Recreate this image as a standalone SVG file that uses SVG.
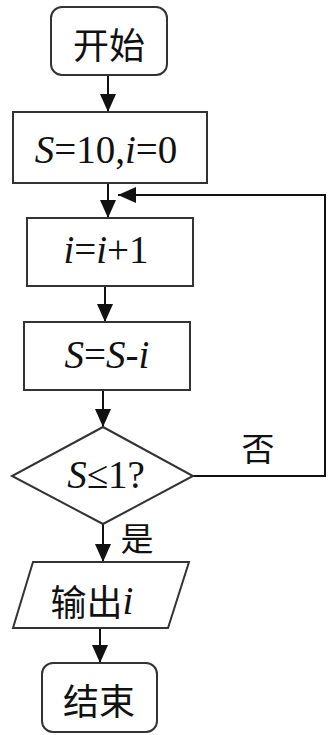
<svg xmlns="http://www.w3.org/2000/svg" width="335" height="735" viewBox="0 0 335 735">
<style>
.shape{fill:#fff;stroke:#333;stroke-width:2}
.conn{fill:none;stroke:#111;stroke-width:2}
.cjk{font-family:"Noto Sans CJK SC","Noto Sans CJK JP",sans-serif;font-size:36px;fill:#111;text-anchor:middle;dominant-baseline:central}
.lbl{font-size:33px}
.math{font-family:"Liberation Serif","Times New Roman",serif;font-size:39px;fill:#111;text-anchor:middle}
.it{font-style:italic}
</style>
<defs>
<marker id="ah" markerUnits="userSpaceOnUse" markerWidth="18" markerHeight="16" refX="18" refY="8" orient="auto">
<path d="M0,0 L18,8 L0,16 Z" fill="#111"/>
</marker>
</defs>
<rect width="335" height="735" fill="#fff"/>
<g id="connectors">
<line class="conn" x1="108" y1="75" x2="108" y2="112" marker-end="url(#ah)"/>
<line class="conn" x1="108" y1="183" x2="108" y2="218" marker-end="url(#ah)"/>
<line class="conn" x1="105" y1="286" x2="105" y2="322" marker-end="url(#ah)"/>
<line class="conn" x1="103" y1="390" x2="103" y2="427" marker-end="url(#ah)"/>
<line class="conn" x1="103" y1="524" x2="103" y2="562" marker-end="url(#ah)"/>
<line class="conn" x1="100" y1="628" x2="100" y2="663" marker-end="url(#ah)"/>
<polyline class="conn" points="193,476 325,476 325,195 118,195" marker-end="url(#ah)"/>
<text class="cjk lbl" x="258" y="447">否</text>
<text class="cjk lbl" x="137" y="537">是</text>
</g>
<g id="start">
<rect class="shape" x="51" y="7" width="116" height="68" rx="11"/>
<text class="cjk" x="109" y="43">开始</text>
</g>
<g id="init">
<rect class="shape" x="13" y="112" width="194" height="71"/>
<text class="math" x="106" y="163"><tspan class="it">S</tspan>=10,<tspan class="it">i</tspan>=0</text>
</g>
<g id="inc">
<rect class="shape" x="27" y="218" width="166" height="68"/>
<text class="math" x="106" y="263"><tspan class="it">i</tspan>=<tspan class="it">i</tspan>+1</text>
</g>
<g id="sub">
<rect class="shape" x="24" y="322" width="166" height="68"/>
<text class="math" x="107" y="368"><tspan class="it">S</tspan>=<tspan class="it">S</tspan>-<tspan class="it">i</tspan></text>
</g>
<g id="cond">
<polygon class="shape" points="103,427 193,476 103,524 12,476"/>
<text class="math" x="106" y="488"><tspan class="it">S</tspan>≤1?</text>
</g>
<g id="output">
<polygon class="shape" points="33,562 189,562 168,628 13,628"/>
<text class="cjk" x="92" y="600">输出<tspan class="math it" dy="0">i</tspan></text>
</g>
<g id="end">
<rect class="shape" x="42" y="663" width="115" height="69" rx="11"/>
<text class="cjk" x="99" y="699">结束</text>
</g>
</svg>
